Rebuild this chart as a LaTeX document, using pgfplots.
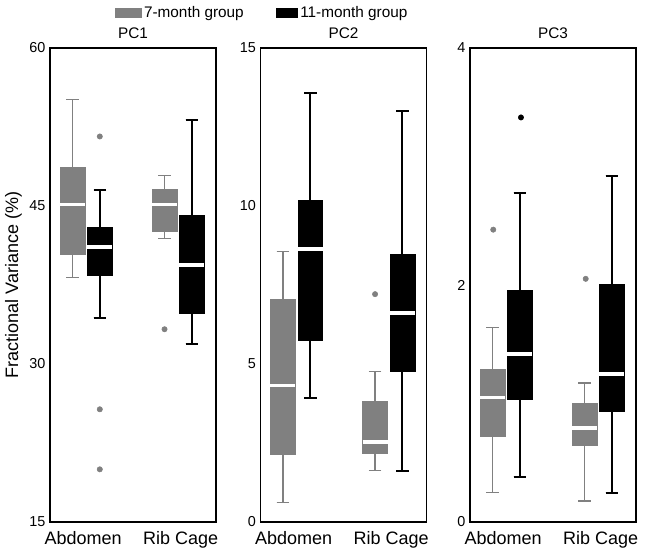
\documentclass[border=0pt]{standalone}
\usepackage{fontspec}
\setmainfont{Liberation Sans}
\usepackage{pgfplots}
\usepgfplotslibrary{statistics}
\pgfplotsset{compat=1.18}
\definecolor{gcol}{RGB}{128,128,128}

\pgfplotsset{
 panel/.style={
  scale only axis, width=124.5pt, height=355.5pt,
  xmin=0, xmax=1,
  boxplot/draw direction=y,
  xtick={0.2,0.787}, xticklabels={Abdomen,Rib Cage},
  major tick length=0pt,
  axis line style={line width=0.9pt},
  /pgf/number format/assume math mode=true,
  yticklabel style={font=\fontsize{10.8}{12}\selectfont},
  xticklabel style={font=\fontsize{13.5}{15}\selectfont, yshift=-3.5pt},
  title style={font=\fontsize{11.5}{13}\selectfont, at={(0.5,1)}, anchor=south, yshift=-2.5pt},
  clip=false,
 },
 gb/.style={fill=gcol, draw=gcol, line width=0.5pt,
   boxplot/every whisker/.style={line width=1.1pt},
   boxplot/every median/.style={draw=white, line width=2.8pt}},
 bb/.style={fill=black, draw=black, line width=0.5pt,
   boxplot/every whisker/.style={line width=1.5pt},
   boxplot/every median/.style={draw=white, line width=2.8pt}},
 go/.style={only marks, mark=*, mark size=2pt, gcol, mark options={fill=gcol, draw=gcol}},
 bo/.style={only marks, mark=*, mark size=2pt, black, mark options={fill=black}},
}

\begin{document}
\begin{tikzpicture}
% PC1
\begin{axis}[panel, name=ax1, at={(0,0)}, anchor=south west,
  title={PC1}, ymin=15, ymax=60, ytick={15,30,45,60},
  ylabel={Fractional Variance (\%)},
  ylabel style={font=\fontsize{13.5}{15}\selectfont, at={(axis description cs:-0.22,0.5)}, anchor=center},
  legend style={at={(1.28,1.074)}, anchor=center, draw=none, fill=none, legend columns=2,
    font=\fontsize{11.5}{13}\selectfont, inner sep=0pt,
    /tikz/every even column/.append style={column sep=22pt}},
  legend cell align=left]
\addlegendimage{legend image code/.code={\fill[gcol] (0pt,-3.5pt) rectangle (19.5pt,3.5pt);}}
\addlegendentry{7-month group}
\addlegendimage{legend image code/.code={\fill[black] (0pt,-3.5pt) rectangle (16pt,3.5pt);}}
\addlegendentry{11-month group}
\addplot[gb, boxplot prepared={draw position=0.135, lower whisker=38.2, lower quartile=40.4, median=45.15, upper quartile=48.7, upper whisker=55.1, box extend=0.15, whisker extend=0.075}] coordinates {};
\addplot[bb, boxplot prepared={draw position=0.30, lower whisker=34.4, lower quartile=38.4, median=41.1, upper quartile=43.0, upper whisker=46.5, box extend=0.15, whisker extend=0.075}] coordinates {};
\addplot[gb, boxplot prepared={draw position=0.69, lower whisker=41.9, lower quartile=42.6, median=45.15, upper quartile=46.6, upper whisker=47.9, box extend=0.15, whisker extend=0.075}] coordinates {};
\addplot[bb, boxplot prepared={draw position=0.855, lower whisker=31.9, lower quartile=34.8, median=39.4, upper quartile=44.1, upper whisker=53.2, box extend=0.15, whisker extend=0.075}] coordinates {};
\addplot[go] coordinates {(0.30,51.6) (0.30,25.7) (0.30,20.0) (0.69,33.3)};
\end{axis}
% PC2
\begin{axis}[panel, name=ax2, at={(157.9pt,0)}, anchor=south west,
  title={PC2}, ymin=0, ymax=15, ytick={0,5,10,15}]
\addplot[gb, boxplot prepared={draw position=0.135, lower whisker=0.62, lower quartile=2.13, median=4.32, upper quartile=7.04, upper whisker=8.56, box extend=0.15, whisker extend=0.075}] coordinates {};
\addplot[bb, boxplot prepared={draw position=0.30, lower whisker=3.91, lower quartile=5.75, median=8.64, upper quartile=10.19, upper whisker=13.56, box extend=0.15, whisker extend=0.075}] coordinates {};
\addplot[gb, boxplot prepared={draw position=0.69, lower whisker=1.63, lower quartile=2.17, median=2.53, upper quartile=3.83, upper whisker=4.77, box extend=0.15, whisker extend=0.075}] coordinates {};
\addplot[bb, boxplot prepared={draw position=0.855, lower whisker=1.6, lower quartile=4.78, median=6.61, upper quartile=8.46, upper whisker=13.0, box extend=0.15, whisker extend=0.075}] coordinates {};
\addplot[go] coordinates {(0.69,7.21)};
\end{axis}
% PC3
\begin{axis}[panel, name=ax3, at={(315pt,0)}, anchor=south west,
  title={PC3}, ymin=0, ymax=4, ytick={0,2,4}]
\addplot[gb, boxplot prepared={draw position=0.135, lower whisker=0.248, lower quartile=0.727, median=1.051, upper quartile=1.285, upper whisker=1.643, box extend=0.15, whisker extend=0.075}] coordinates {};
\addplot[bb, boxplot prepared={draw position=0.30, lower whisker=0.383, lower quartile=1.032, median=1.42, upper quartile=1.953, upper whisker=2.78, box extend=0.15, whisker extend=0.075}] coordinates {};
\addplot[gb, boxplot prepared={draw position=0.69, lower whisker=0.178, lower quartile=0.643, median=0.792, upper quartile=1.0, upper whisker=1.173, box extend=0.15, whisker extend=0.075}] coordinates {};
\addplot[bb, boxplot prepared={draw position=0.855, lower whisker=0.248, lower quartile=0.93, median=1.249, upper quartile=2.002, upper whisker=2.92, box extend=0.15, whisker extend=0.075}] coordinates {};
\addplot[go] coordinates {(0.14,2.467) (0.697,2.052)};
\addplot[bo] coordinates {(0.307,3.414)};
\end{axis}
\pgfresetboundingbox
\path (-37.5pt,-25.5pt) rectangle (446.25pt,391.5pt);
\end{tikzpicture}
\end{document}
